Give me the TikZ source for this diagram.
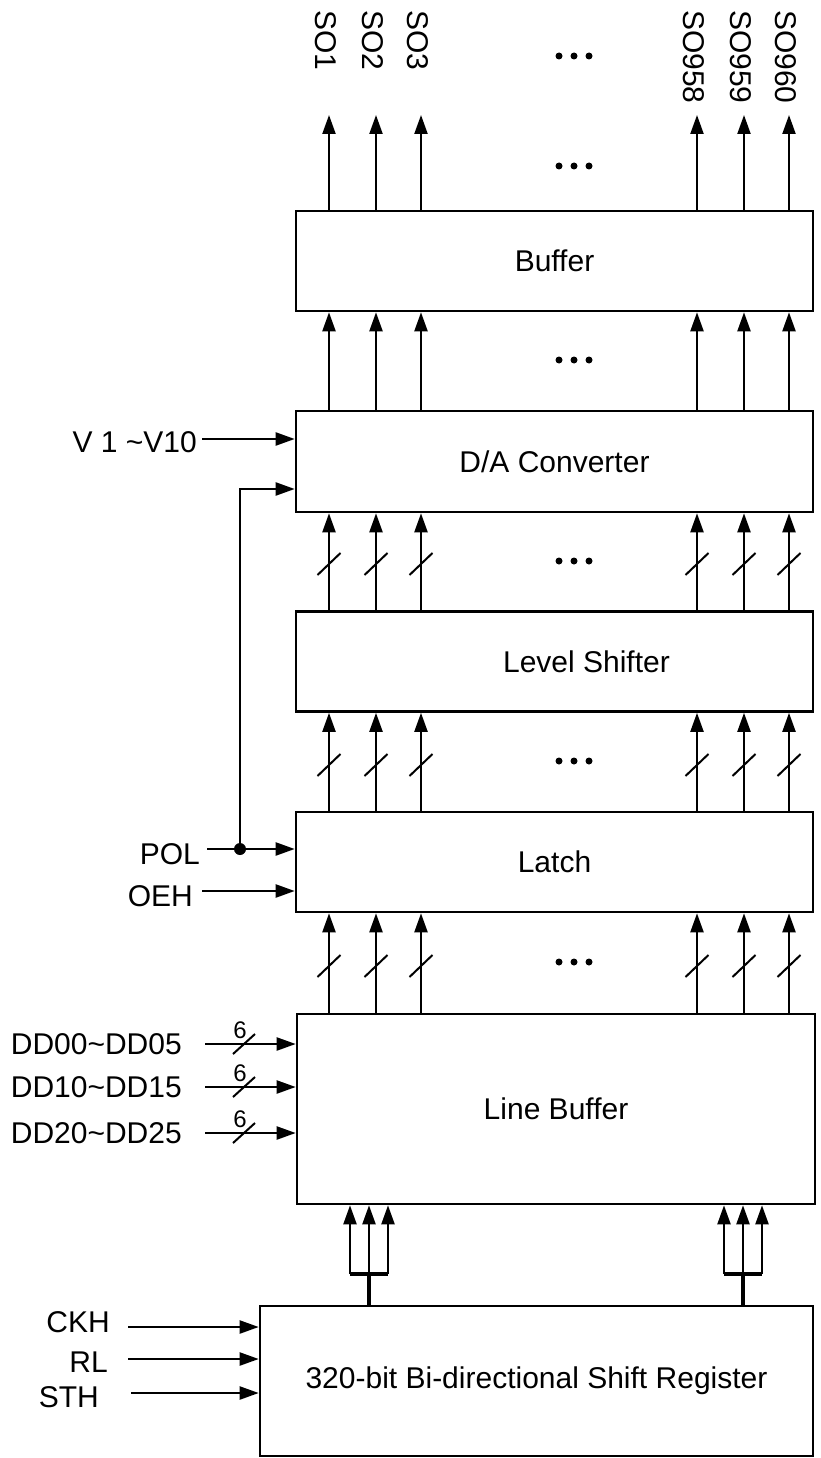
\documentclass[tikz,border=0pt]{standalone}
\usepackage{fontspec}
\setmainfont{Liberation Sans}
\usetikzlibrary{arrows.meta}
\definecolor{ink}{HTML}{000000}
\newcommand{\labfont}{\fontsize{30}{36}\selectfont}
\newcommand{\busfont}{\fontsize{24}{28}\selectfont}
\tikzset{
  blockbox/.style={draw=ink, line width=2.6pt, minimum width=517pt,
    minimum height=100pt, inner sep=0pt, font=\labfont},
  sigarr/.style={-{Triangle[length=19pt,width=13pt]}, line width=2.2pt, draw=ink},
  busslash/.style={line width=2pt, draw=ink},
  busbar/.style={line width=3.8pt, draw=ink},
  sigtext/.style={font=\labfont, inner sep=0pt, text=ink},
  etcdot/.style={circle, fill=ink, inner sep=0pt, minimum size=7pt},
  jointdot/.style={circle, fill=ink, inner sep=0pt, minimum size=12pt}
}

\begin{document}
\begin{tikzpicture}[x=1pt,y=-1pt]
    \useasboundingbox (0,0) rectangle (820,1458);
    \node[blockbox] (buf) at (554.5,261) {Buffer};
    \node[blockbox, minimum height=101pt] (dac) at (554.5,461.5) {D/A Converter};
    \node[blockbox, label={[sigtext, xshift=32pt]center:Level Shifter}] (lvl) at (554.5,661.5) {};
    \node[blockbox] (lat) at (554.5,862) {Latch};
    \node[blockbox, minimum width=518pt, minimum height=190pt] (lbuf) at (556,1109) {Line Buffer};
    \node[blockbox, minimum width=553pt, minimum height=150pt] (sreg) at (536.5,1381)
      {320-bit Bi-directional Shift Register};

    \foreach \c/\n in {329/1, 376/2, 421/3, 697/958, 744/959, 789/960} {
      \coordinate (top\n) at (\c,115);
      \draw[sigarr] (buf.north -| top\n) -- (top\n);
      \node[sigtext, rotate=-90, anchor=west] (so\n) at (\c-3,10) {SO\n};
      \draw[sigarr] (dac.north -| top\n) -- (buf.south -| top\n);
    }
    \foreach \lo/\hi/\sy in {lvl/dac/564, lat/lvl/765, lbuf/lat/966} {
      \foreach \c in {329, 376, 421, 697, 744, 789} {
        \draw[sigarr] (\lo.north -| \c,0) -- (\hi.south -| \c,0);
        \draw[busslash] (\c-11.5,\sy+11) -- (\c+11.5,\sy-11);
      }
    }
    \foreach \r in {56, 166, 360, 561, 761, 962} {
      \foreach \x in {559, 574, 589} {
        \node[etcdot] (dot-\r-\x) at (\x,\r) {};
      }
    }

    \coordinate (vin) at (202,439);
    \node[sigtext, anchor=east] (vref) at (197,442) {V 1 \textasciitilde V10};
    \draw[sigarr] (vin) -- (dac.west |- vin);
    \coordinate (polin) at (207,849);
    \node[sigtext, anchor=east] (pol) at (200,854) {POL};
    \node[jointdot] (poljoint) at (240,849) {};
    \draw[sigarr] (polin) -- (lat.west |- polin);
    \draw[sigarr] (poljoint.center) |- (dac.west |- 0,489);
    \coordinate (oein) at (202,891);
    \node[sigtext, anchor=east] (oeh) at (193,896) {OEH};
    \draw[sigarr] (oein) -- (lat.west |- oein);

    \foreach \a/\y in {0/1044, 1/1087, 2/1133} {
      \coordinate (dd\a) at (205,\y);
      \node[sigtext, anchor=east] (ddl\a) at (182,\y) {DD\a0\textasciitilde DD\a5};
      \draw[sigarr] (dd\a) -- (lbuf.west |- dd\a);
      \draw[busslash] (233,\y+10) -- (255,\y-10);
      \node[font=\busfont, inner sep=0pt] (ddw\a) at (240,\y-14) {6};
    }

    \foreach \s/\x/\y/\tx/\ty in {CKH/128/1327/110/1322, RL/128/1359/108/1362, STH/131/1393/99/1397} {
      \coordinate (in\s) at (\x,\y);
      \node[sigtext, anchor=east] (l\s) at (\tx,\ty) {\s};
      \draw[sigarr] (in\s) -- (sreg.west |- in\s);
    }

    \foreach \g/\m in {l/369, r/743} {
      \coordinate (bar\g) at (\m,1274);
      \draw[busbar] (\m-19,1274) -- (\m+19,1274);
      \draw[busbar] (sreg.north -| bar\g) -- (bar\g);
      \foreach \d in {-19, 0, 19} {
        \draw[sigarr] (\m+\d,1274) -- (lbuf.south -| \m+\d,0);
      }
    }
\end{tikzpicture}
\end{document}
